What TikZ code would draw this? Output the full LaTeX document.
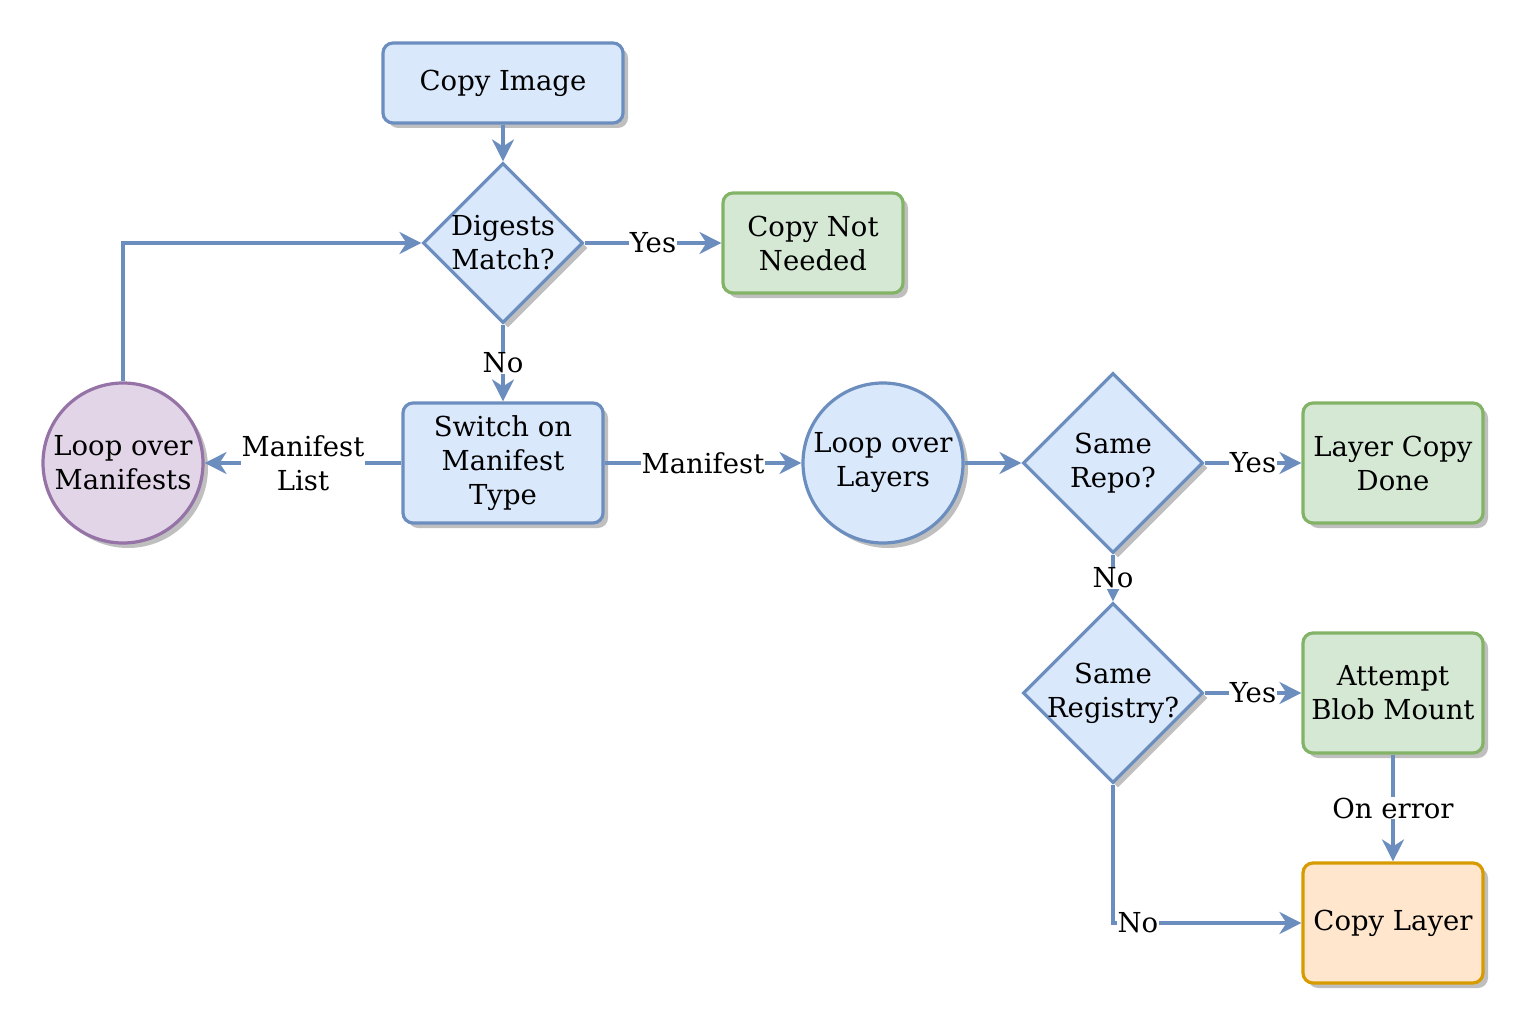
\documentclass[tikz,border=0pt]{standalone}
\usepackage{fontspec}
\setmainfont{DejaVu Serif}
\usetikzlibrary{arrows.meta,shapes.geometric,shadows,positioning}

\definecolor{blueFill}{HTML}{DAE8FC}
\definecolor{blueLine}{HTML}{6C8EBF}
\definecolor{greenFill}{HTML}{D5E8D4}
\definecolor{greenLine}{HTML}{82B366}
\definecolor{purpleFill}{HTML}{E1D5E7}
\definecolor{purpleLine}{HTML}{9673A6}
\definecolor{orangeFill}{HTML}{FFE6CC}
\definecolor{orangeLine}{HTML}{D79B00}

\newcommand{\diagfont}{\fontsize{27.5}{34}\selectfont}

\tikzset{
  base/.style={draw=blueLine, fill=blueFill, line width=3.2pt, font=\diagfont,
    align=center, inner sep=2pt,
    drop shadow={shadow xshift=5pt, shadow yshift=-5pt, fill=black!25, opacity=1}},
  process/.style={base, rectangle, rounded corners=10pt},
  decision/.style={base, diamond, inner sep=0pt, minimum width=#1, minimum height=#1},
  loopnode/.style={base, circle, inner sep=0pt, minimum size=160pt},
  done/.style={process, draw=greenLine, fill=greenFill},
  every label/.style={align=center, font=\diagfont},
  flow/.style={->, line width=3.2pt, draw=blueLine},
  lbl/.style={fill=white, font=\diagfont, align=center, inner sep=1pt}
}

\begin{document}
\begin{tikzpicture}[x=1pt, y=-1pt, >={Stealth[length=22pt, width=22pt, inset=7pt]}]
  \useasboundingbox (0,0) rectangle (1528,1030);

  % top part
  \node[process, minimum width=240pt, minimum height=80pt] (copyimage) at (503,83) {Copy Image};
  \node[decision=160pt, label=center:{Digests\\Match?}] (digests) at (503,243) {};
  \node[done, minimum width=180pt, minimum height=100pt] (notneeded) at (813,243) {Copy Not\\Needed};
  \node[process, minimum width=200pt, minimum height=120pt] (switch) at (503,463) {Switch on\\Manifest\\Type};
  \node[loopnode, draw=purpleLine, fill=purpleFill] (manifests) at (123,463) {Loop over\\Manifests};

  % layers
  \node[loopnode] (layers) at (883,463) {Loop over\\Layers};
  \node[decision=180pt, label=center:{Same\\Repo?}] (samerepo) at (1113,463) {};
  \node[done, minimum width=180pt, minimum height=120pt] (layerdone) at (1393,463) {Layer Copy\\Done};
  \node[decision=180pt, label=center:{Same\\Registry?}] (sameregistry) at (1113,693) {};
  \node[done, minimum width=180pt, minimum height=120pt] (blobmount) at (1393,693) {Attempt\\Blob Mount};
  \node[process, draw=orangeLine, fill=orangeFill, minimum width=180pt, minimum height=120pt] (copylayer) at (1393,923) {Copy Layer};

  \draw[flow] (copyimage) -- (digests);
  \draw[flow] (digests) -- node[lbl] {Yes} (notneeded);
  \draw[flow] (digests) -- node[lbl] {No} (switch);
  \draw[flow] (switch) -- node[lbl] {Manifest\\List} (manifests);
  \draw[flow] (switch) -- node[lbl] {Manifest} (layers);
  \draw[flow] (manifests) |- (digests);

  \draw[flow] (layers) -- (samerepo);
  \draw[flow] (samerepo) -- node[lbl] {Yes} (layerdone);
  \draw[flow] (samerepo) -- node[lbl] {No} (sameregistry);
  \draw[flow] (sameregistry) -- node[lbl] {Yes} (blobmount);
  \draw[flow] (blobmount) -- node[lbl] {On error} (copylayer);
  \draw[flow] (sameregistry) |- node[lbl, pos=0.566] {No} (copylayer);
\end{tikzpicture}
\end{document}
